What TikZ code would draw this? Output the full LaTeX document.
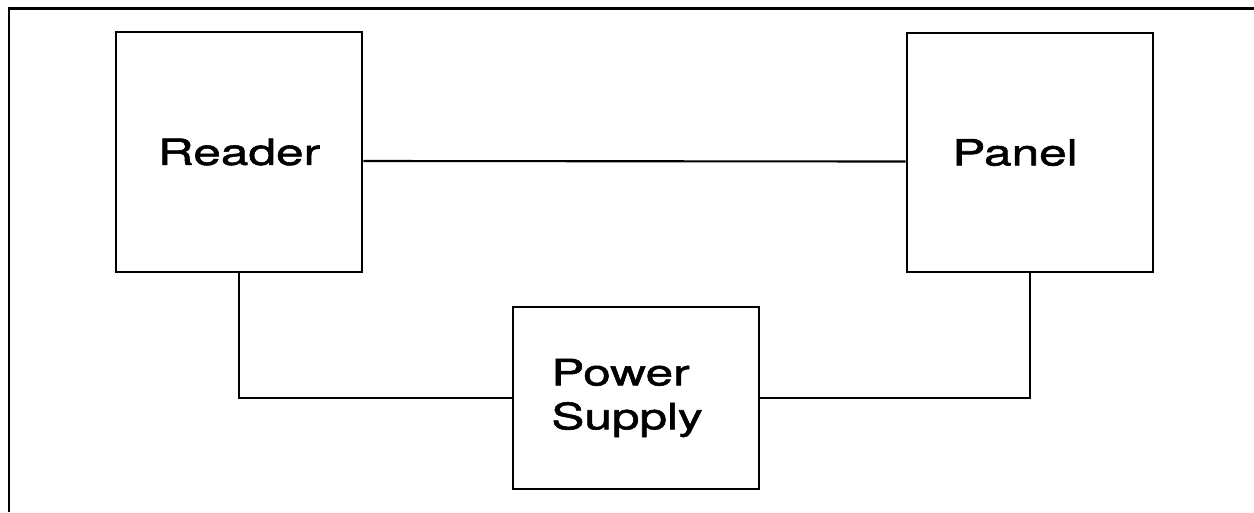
\documentclass[tikz,border=0pt]{standalone}
\usepackage{fontspec}
\setmainfont{TeX Gyre Heros}[FakeStretch=1.37,FakeBold=1.6]
\usepackage{tikz}

\begin{document}
\begin{tikzpicture}[x=0.02cm, y=-0.02cm,
		box_style/.style={rectangle,draw=black,line width=1.6pt,fill=white,minimum width=4.92cm,
			font=\fontsize{20.6pt}{25pt}\selectfont,align=left,inner sep=0pt},
		edge_style/.style={draw=black,line width=1.2pt},
		frame_style/.style={draw=black,line width=1.7pt}]
		\useasboundingbox (0,0) rectangle (1254,512);
		\draw[frame_style] (1254,8) -- (9,8) -- (9,512);
		\node[box_style,minimum height=4.8cm] (reader) at (239,152) {Reader};
		\node[box_style,minimum height=4.78cm] (panel) at (1030,152.5) {Panel\hspace*{0.6cm}};
		\node[box_style,minimum height=3.64cm] (supply) at (636,398) {Power\\Supply\hspace*{0.36cm}};
		\draw[edge_style] ([yshift=-0.18cm]reader.east) -- ([yshift=-0.18cm]panel.west);
		\draw[edge_style] (reader.south) |- (supply.west);
		\draw[edge_style] (panel.south) |- (supply.east);
\end{tikzpicture}
\end{document}
